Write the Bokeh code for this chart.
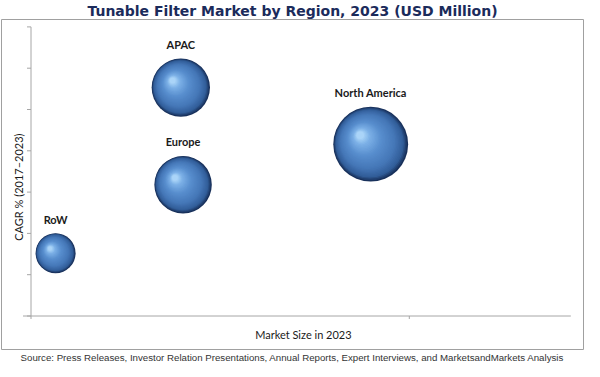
from bokeh.plotting import figure
from bokeh.models import Range1d, ColumnDataSource, Title
from bokeh.core.properties import value
from bokeh.embed import file_html
from bokeh.resources import INLINE
import numpy as np

# ---- data ----
regions = ["North America", "APAC", "Europe", "RoW"]
market_size = [898, 396, 402, 65]        # x (relative market size, 2023)
cagr = [4.16, 5.53, 3.18, 1.52]          # y (relative CAGR 2017-2023)
bubble_value = [56, 34, 33, 16]          # bubble magnitude
x_ticks = [0, 1000]
y_ticks = [0, 1, 2, 3, 4, 5, 6, 7]
title_text = "Tunable Filter Market by Region, 2023 (USD Million)"
source_text = ("Source: Press Releases, Investor Relation Presentations, Annual Reports, "
               "Expert Interviews, and MarketsandMarkets Analysis")
x_label = "Market Size in 2023"
y_label = "CAGR % (2017\u20132023)"

# ---- geometry (frame = outer chart box) ----
W, H = 584, 361
FW, FH = 582, 330
TOPB, LEFTB = 17, 1
PXX = 0.3783           # px per x unit
PXY = 41.3             # px per y unit
x0_px, y0_px = 29.5, 33.5   # position of the origin inside the frame (from left / bottom)
x_rng = Range1d(-x0_px / PXX, (FW - x0_px) / PXX)
y_rng = Range1d(-y0_px / PXY, (FH - y0_px) / PXY)

p = figure(frame_width=FW, frame_height=FH, x_range=x_rng, y_range=y_rng,
           output_backend="svg", toolbar_location=None,
           min_border_left=LEFTB, min_border_right=W - LEFTB - FW,
           min_border_top=TOPB, min_border_bottom=H - TOPB - FH,
           x_axis_type=None, y_axis_type=None,
           outline_line_color="#a0a0a0", outline_line_width=1,
           background_fill_color="white", border_fill_color="white")
p.grid.visible = False

# title and source
p.title = Title(text=title_text, align="center", text_font="DejaVu Sans",
                text_font_size="14px", text_font_style="bold",
                text_color="#1b2b5b", standoff=1, offset=5)
p.add_layout(Title(text=source_text, align="center", text_font="Liberation Sans",
                   text_font_size="9.7px", text_font_style="normal",
                   text_color="#333333", standoff=1, offset=6), "below")

# ---- axes drawn with the chart's scales ----
axis_col = "#a6a6a6"
y_top = y_ticks[-1]
x_end = 1427
p.segment(x0=[0], y0=[y_ticks[0]], x1=[0], y1=[y_top], line_color=axis_col, line_width=1)
p.segment(x0=[-8 / PXX], y0=[0], x1=[x_end], y1=[0], line_color=axis_col, line_width=1)
p.segment(x0=[0] * len(y_ticks), y0=y_ticks, x1=[-4 / PXX] * len(y_ticks), y1=y_ticks,
          line_color=axis_col, line_width=1)
p.segment(x0=x_ticks, y0=[0] * len(x_ticks), x1=x_ticks, y1=[-3 / PXY] * len(x_ticks),
          line_color=axis_col, line_width=1)

p.text(x=[720], y=[-0.45], text=[x_label], text_align="center", text_baseline="middle",
       text_font=value("Lato"), text_font_size="11px", text_color="#1a1a1a")
p.text(x=[-33.5], y=[3.12], text=[y_label], angle=np.pi / 2,
       text_align="center", text_baseline="middle",
       text_font=value("Lato"), text_font_size="11px", text_color="#1a1a1a")

# ---- bubbles as shaded spheres ----
diam = [10 * np.sqrt(v) for v in bubble_value]

stops = [(0.0, (24, 48, 90)), (0.10, (50, 94, 154)), (0.30, (70, 120, 184)),
         (0.60, (88, 142, 206)), (0.85, (124, 176, 230)), (1.0, (170, 212, 248))]

def ramp(t):
    for (t0, c0), (t1, c1) in zip(stops[:-1], stops[1:]):
        if t <= t1:
            f = (t - t0) / (t1 - t0)
            return "#%02x%02x%02x" % tuple(int(round(a + (b - a) * f)) for a, b in zip(c0, c1))
    return "#%02x%02x%02x" % stops[-1][1]

N = 32
xs, ys, ss, cs = [], [], [], []
for x, y, d in zip(market_size, cagr, diam):
    for i in range(N):
        t = i / (N - 1)
        xs.append(x - 0.14 * d * t / PXX)
        ys.append(y + 0.12 * d * t / PXY)
        ss.append(d * (1 - 0.9 * t))
        cs.append(ramp(t))
p.scatter(x=xs, y=ys, size=ss, fill_color=cs, line_color=None, marker="circle")

# ---- region labels ----
lab = ColumnDataSource(dict(x=market_size, y=cagr, text=regions,
                            yo=[-(d / 2 + 14) for d in diam]))
p.text(x="x", y="y", text="text", y_offset="yo", source=lab,
       text_align="center", text_baseline="middle",
       text_font=value("Lato"), text_font_size="11px", text_font_style="bold",
       text_color="#1a1a1a")

open("out.html", "w").write(file_html(p, INLINE))
